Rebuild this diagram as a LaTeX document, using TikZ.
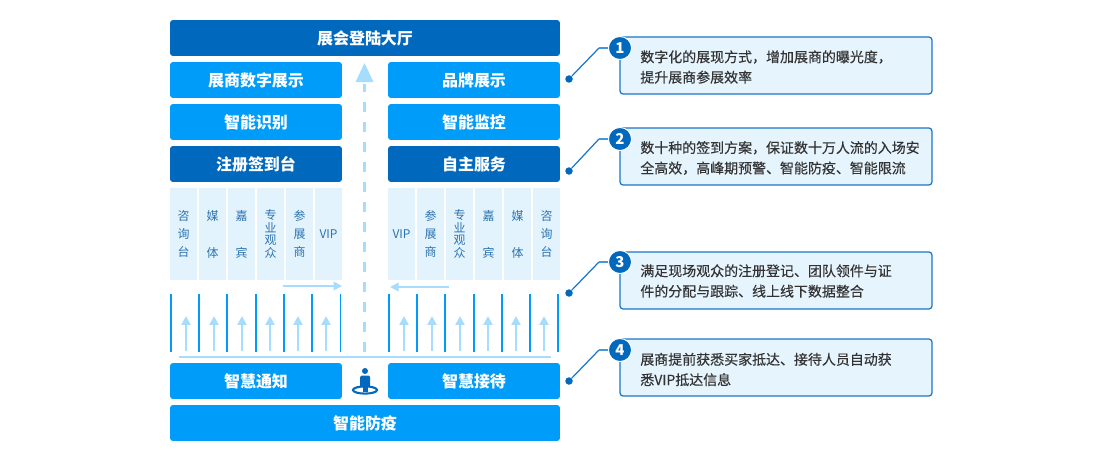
\documentclass[tikz,border=0pt]{standalone}
\usepackage{fontspec}
\setmainfont{Noto Sans CJK SC}
\newfontfamily\notefont[FakeBold=0.25]{Noto Sans CJK SC}
\usetikzlibrary{arrows.meta,positioning,calc}
\definecolor{hallblue}{HTML}{0069BD}
\definecolor{zoneblue}{HTML}{009CFA}
\definecolor{laneblue}{HTML}{E3F3FD}
\definecolor{flowblue}{HTML}{A6DCFD}
\definecolor{noteblue}{HTML}{E6F4FE}
\definecolor{lineblue}{HTML}{1A76C9}
\definecolor{stubblue}{HTML}{4A95D8}
\definecolor{lanetext}{HTML}{2B73B0}
\definecolor{notetext}{HTML}{333333}
\tikzset{
  zonebox/.style={fill=zoneblue,rounded corners=0.06cm,minimum width=3.44cm,minimum height=0.72cm,inner sep=0pt,text=white,font=\fontsize{9.1pt}{11pt}\selectfont\bfseries},
  hallbox/.style={zonebox,fill=hallblue},
  widebox/.style={minimum width=7.8cm},
  lanebox/.style={fill=laneblue,minimum width=0.54cm,minimum height=1.84cm,inner sep=0pt,text=lanetext,align=center,font=\fontsize{6.8pt}{10.2pt}\selectfont},
  tightlane/.style={font=\fontsize{6.8pt}{7.1pt}\selectfont},
  notebox/.style={draw=lineblue,line width=0.7pt,fill=noteblue,rounded corners=0.06cm,minimum width=6.24cm,minimum height=1.14cm,inner sep=0pt},
  notetxt/.style={anchor=west,inner sep=0pt,align=left,text=notetext,font=\notefont\fontsize{7.95pt}{11.6pt}\selectfont},
  numdot/.style={circle,fill=hallblue,draw=white,line width=0.5pt,minimum size=0.46cm,inner sep=0pt,text=white,font=\fontsize{8.5pt}{10pt}\selectfont\bfseries},
  enddot/.style={circle,fill=hallblue,minimum size=0.15cm,inner sep=0pt},
  leader/.style={lineblue,line width=0.7pt},
  stub/.style={stubblue,line width=1.2pt},
  upflow/.style={flowblue,line width=1.4pt,-{Triangle[length=0.18cm,width=0.18cm]}},
  sideflow/.style={flowblue,line width=1pt,-{Triangle[length=0.17cm,width=0.17cm]}},
  wall/.style={zoneblue,line width=1.1pt}
}

\begin{document}
\begin{tikzpicture}[x=0.02cm,y=-0.02cm]
  \useasboundingbox (0,0) rectangle (1100,453);

  % ---- Centre walkway ----------------------------------------
  \draw[flowblue,line width=2pt,dash pattern=on 0.2cm off 0.2cm] (364.5,352) -- (364.5,84);
  \fill[flowblue] (364.5,63) -- (373.5,82) -- (355.5,82) -- cycle;

  % ---- Blocks, top to bottom ---------------------------------
  \node[hallbox,widebox] (hall) at (365,38) {展会登陆大厅};
  \node[zonebox] (digital) at (256,80) {展商数字展示};
  \node[zonebox] (brand) at (474,80) {品牌展示};
  \node[zonebox] (recog) at (256,122) {智能识别};
  \node[zonebox] (monitor) at (474,122) {智能监控};
  \node[hallbox] (signin) at (256,164) {注册签到台};
  \node[hallbox] (selfserv) at (474,164) {自主服务};
  \node[zonebox] (notify) at (256,381) {智慧通知};
  \node[zonebox] (reception) at (474,381) {智慧接待};
  \node[zonebox,widebox] (epidemic) at (365,423) {智能防疫};

  % ---- Lanes, left side --------------------------------------
  \node[lanebox] (lconsult) at (183.5,234) {咨\\询\\台};
  \node[lanebox] (lmedia) at (212.5,234) {媒\\[0.38cm]体};
  \node[lanebox] (lguest) at (241.5,234) {嘉\\[0.38cm]宾};
  \node[lanebox,tightlane] (lvisitor) at (270.5,234) {专\\业\\观\\众};
  \node[lanebox] (lexhibit) at (299.5,234) {参\\展\\商};
  \node[lanebox] (lvip) at (328.5,234) {VIP};

  % ---- Lanes, right side -------------------------------------
  \node[lanebox] (rvip) at (401.5,234) {VIP};
  \node[lanebox] (rexhibit) at (430.5,234) {参\\展\\商};
  \node[lanebox,tightlane] (rvisitor) at (459.5,234) {专\\业\\观\\众};
  \node[lanebox] (rguest) at (488.5,234) {嘉\\[0.38cm]宾};
  \node[lanebox] (rmedia) at (517.5,234) {媒\\[0.38cm]体};
  \node[lanebox] (rconsult) at (546.5,234) {咨\\询\\台};

  % ---- Queue walls and flow arrows ---------------------------
  \draw[sideflow] (283,286) -- (342,286);
  \draw[sideflow] (449,287) -- (390,287);
  \draw[wall] (171,294) -- (171,352) (199,294) -- (199,352) (227,294) -- (227,352) (256,294) -- (256,352);
  \draw[wall] (284,294) -- (284,352) (312,294) -- (312,352) (340.5,294) -- (340.5,352);
  \draw[wall] (389,294) -- (389,352) (417,294) -- (417,352) (445,294) -- (445,352) (474,294) -- (474,352);
  \draw[wall] (502,294) -- (502,352) (530,294) -- (530,352) (558,294) -- (558,352);
  \draw[upflow] (186,351) -- (186,316);
  \draw[upflow] (214,351) -- (214,316);
  \draw[upflow] (242,351) -- (242,316);
  \draw[upflow] (270,351) -- (270,316);
  \draw[upflow] (298,351) -- (298,316);
  \draw[upflow] (326,351) -- (326,316);
  \draw[upflow] (404,351) -- (404,316);
  \draw[upflow] (432,351) -- (432,316);
  \draw[upflow] (460,351) -- (460,316);
  \draw[upflow] (488,351) -- (488,316);
  \draw[upflow] (516,351) -- (516,316);
  \draw[upflow] (544,351) -- (544,316);
  \draw[flowblue,line width=1.3pt] (179,357) -- (551,357);

  % ---- Visitor icon ------------------------------------------
  \draw[hallblue,line width=1.2pt] (365,390) ellipse (12 and 3.6);
  \fill[hallblue] (365,371) circle (3);
  \fill[hallblue,rounded corners=0.03cm] (360,375.5) rectangle (370,387);
  \fill[hallblue] (362.5,386) rectangle (367.5,392);

  % ---- Notes -------------------------------------------------
  \node[notebox] (note1) at (776,65.5) {};
  \node[notebox] (note2) at (776,156.5) {};
  \node[notebox] (note3) at (776,280.5) {};
  \node[notebox] (note4) at (776,367.5) {};
  \node[notetxt] (text1) at (640,67) {数字化的展现方式，增加展商的曝光度，\\提升展商参展效率};
  \node[notetxt] (text2) at (640,158) {数十种的签到方案，保证数十万人流的入场安\\全高效，高峰期预警、智能防疫、智能限流};
  \node[notetxt] (text3) at (640,281) {满足现场观众的注册登记、团队领件与证\\件的分配与跟踪、线上线下数据整合};
  \node[notetxt] (text4) at (640,369.5) {展商提前获悉买家抵达、接待人员自动获\\悉VIP抵达信息};

  % ---- Leaders -----------------------------------------------
  \coordinate (bend1) at (599,48);
  \coordinate (bend2) at (599,139);
  \coordinate (bend3) at (599,262);
  \coordinate (bend4) at (599,350);
  \node[enddot] (dot1) at (569,79) {};
  \node[enddot] (dot2) at (569,171) {};
  \node[enddot] (dot3) at (569,293) {};
  \node[enddot] (dot4) at (569,381) {};
  \draw[leader] (dot1) -- (bend1);
  \draw[leader] (dot2) -- (bend2);
  \draw[leader] (dot3) -- (bend3);
  \draw[leader] (dot4) -- (bend4);
  \node[numdot] (num1) at (620,48) {1};
  \node[numdot] (num2) at (620,139) {2};
  \node[numdot] (num3) at (620,262) {3};
  \node[numdot] (num4) at (620,350) {4};
  \draw[stub] (bend1) -- (num1);
  \draw[stub] (bend2) -- (num2);
  \draw[stub] (bend3) -- (num3);
  \draw[stub] (bend4) -- (num4);

\end{tikzpicture}
\end{document}
